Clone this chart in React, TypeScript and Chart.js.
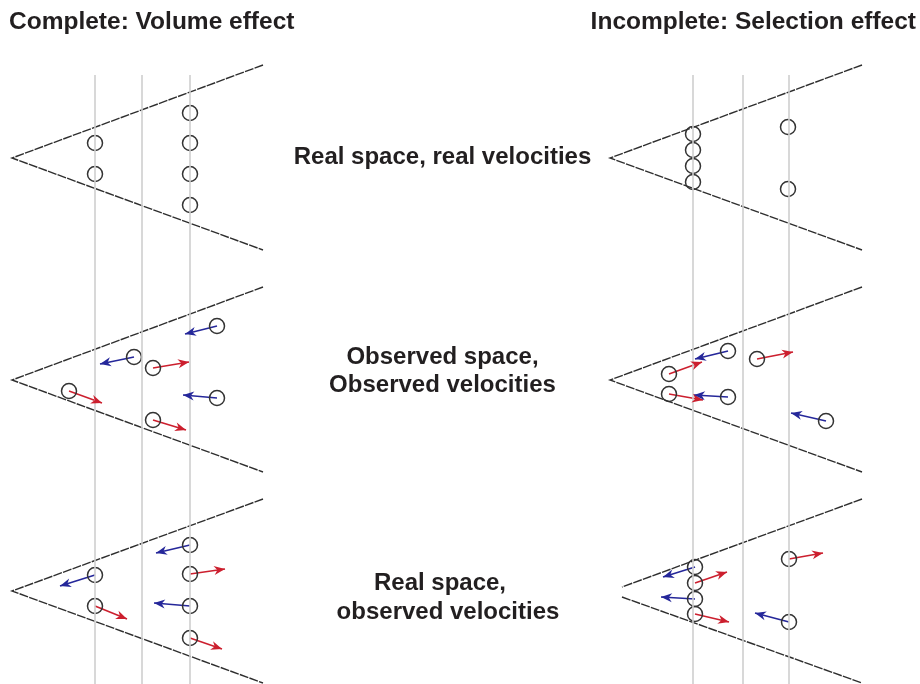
import React, { useEffect, useRef } from "react";
import { Chart, registerables } from "chart.js";

Chart.register(...registerables);

// ---- Text labels ----
const titleLeft = "Complete: Volume effect";
const titleRight = "Incomplete: Selection effect";
const rowLabels = [
  ["Real space, real velocities"],
  ["Observed space,", "Observed velocities"],
  ["Real space,", "observed velocities"],
];
const rowLabelX = [[442.5], [442.5, 442.5], [440, 448]];
const rowLabelY = [[157], [357, 385], [583, 612]];

// ---- Cone outlines (each: [x0,y0, x1,y1, ...]) ----
const coneLeft1 = [263, 65, 12, 158, 263, 250];
const coneLeft2 = [263, 287, 12, 380, 263, 472];
const coneLeft3 = [263, 499, 12, 591, 263, 683];
const coneRight1 = [862, 65, 610, 158, 862, 250];
const coneRight2 = [862, 287, 610, 380, 862, 472];
const coneRight3a = [862, 499, 622, 587];
const coneRight3b = [622, 597, 862, 683];

// ---- Vertical guide lines (x positions), spanning y range ----
const guideLeftX = [95, 142, 190];
const guideRightX = [693, 743, 789];
const guideY = [75, 684];

// ---- Galaxies (circle centres) ----
const galLeft1X = [95, 95, 190, 190, 190, 190];
const galLeft1Y = [143, 174, 113, 143, 174, 205];
const galLeft2X = [217, 134, 153, 69, 217, 153];
const galLeft2Y = [326, 357, 368, 391, 398, 420];
const galLeft3X = [190, 95, 190, 95, 190, 190];
const galLeft3Y = [545, 575, 574, 606, 606, 638];
const galRight1X = [693, 693, 693, 693, 788, 788];
const galRight1Y = [134, 150, 166, 182, 127, 189];
const galRight2X = [728, 757, 669, 669, 728, 826];
const galRight2Y = [351, 359, 374, 394, 397, 421];
const galRight3X = [695, 695, 695, 695, 789, 789];
const galRight3Y = [567, 583, 599, 614, 559, 622];

// ---- Velocity arrows: start x, start y, end x, end y, sign (+1 red receding, -1 blue approaching) ----
const arrLeft2 = [
  [217, 326, 185, 334, -1],
  [134, 357, 100, 364, -1],
  [153, 368, 189, 362, 1],
  [69, 391, 102, 403, 1],
  [217, 398, 183, 395, -1],
  [153, 420, 186, 430, 1],
];
const arrLeft3 = [
  [190, 545, 156, 553, -1],
  [95, 575, 60, 586, -1],
  [190, 574, 225, 569, 1],
  [95, 606, 127, 619, 1],
  [190, 606, 154, 603, -1],
  [190, 638, 222, 649, 1],
];
const arrRight2 = [
  [728, 351, 695, 359, -1],
  [757, 359, 793, 352, 1],
  [669, 374, 702, 362, 1],
  [669, 394, 703, 400, 1],
  [728, 397, 694, 395, -1],
  [826, 421, 791, 413, -1],
];
const arrRight3 = [
  [695, 567, 663, 577, -1],
  [695, 583, 727, 572, 1],
  [695, 599, 661, 597, -1],
  [695, 614, 729, 622, 1],
  [789, 559, 823, 553, 1],
  [789, 622, 755, 613, -1],
];

const RED = "#cc1f2e";
const BLUE = "#25279a";
const LINE = "#2e2e2e";
const GUIDE = "#cfcfcf";
const FONT = "'Liberation Sans', Arial, Helvetica, sans-serif";

function pairs(a: number[]) {
  const out: { x: number; y: number }[] = [];
  for (let i = 0; i < a.length; i += 2) out.push({ x: a[i], y: a[i + 1] });
  return out;
}

const arrowPlugin = {
  id: "arrowHeads",
  afterDatasetsDraw(chart: any) {
    const ctx = chart.ctx;
    chart.data.datasets.forEach((ds: any, i: number) => {
      if (!ds.isArrow) return;
      const meta = chart.getDatasetMeta(i);
      const p0 = meta.data[0];
      const p1 = meta.data[1];
      const ang = Math.atan2(p1.y - p0.y, p1.x - p0.x);
      const L = 11;
      const W = 4.5;
      ctx.save();
      ctx.fillStyle = ds.borderColor;
      ctx.beginPath();
      ctx.moveTo(p1.x, p1.y);
      ctx.lineTo(
        p1.x - L * Math.cos(ang) + W * Math.sin(ang),
        p1.y - L * Math.sin(ang) - W * Math.cos(ang)
      );
      ctx.lineTo(p1.x - 0.7 * L * Math.cos(ang), p1.y - 0.7 * L * Math.sin(ang));
      ctx.lineTo(
        p1.x - L * Math.cos(ang) - W * Math.sin(ang),
        p1.y - L * Math.sin(ang) + W * Math.cos(ang)
      );
      ctx.closePath();
      ctx.fill();
      ctx.restore();
    });
  },
};

const textPlugin = {
  id: "labels",
  afterDraw(chart: any) {
    const ctx = chart.ctx;
    const xs = chart.scales.x;
    const ys = chart.scales.y;
    ctx.save();
    ctx.fillStyle = "#221f20";
    ctx.textBaseline = "middle";
    ctx.font = `bold 24.5px ${FONT}`;
    ctx.textAlign = "left";
    ctx.fillText(titleLeft, xs.getPixelForValue(9), ys.getPixelForValue(22));
    ctx.textAlign = "right";
    ctx.fillText(titleRight, xs.getPixelForValue(916), ys.getPixelForValue(22));
    ctx.font = `bold 24px ${FONT}`;
    ctx.textAlign = "center";
    rowLabels.forEach((lines, i) => {
      lines.forEach((t, j) => {
        ctx.fillText(
          t,
          xs.getPixelForValue(rowLabelX[i][j]),
          ys.getPixelForValue(rowLabelY[i][j])
        );
      });
    });
    ctx.restore();
  },
};

export default function App() {
  const ref = useRef<HTMLCanvasElement>(null);
  useEffect(() => {
    const datasets: any[] = [];
    [...guideLeftX, ...guideRightX].forEach((x) => {
      datasets.push({
        data: [
          { x, y: guideY[0] },
          { x, y: guideY[1] },
        ],
        showLine: true,
        borderColor: GUIDE,
        borderWidth: 1.6,
        pointRadius: 0,
      });
    });
    [coneLeft1, coneLeft2, coneLeft3, coneRight1, coneRight2, coneRight3a, coneRight3b].forEach((c) => {
      datasets.push({
        data: pairs(c),
        showLine: true,
        borderColor: LINE,
        borderWidth: 1.4,
        borderDash: [9, 1.2],
        pointRadius: 0,
        tension: 0,
      });
    });
    [
      [galLeft1X, galLeft1Y],
      [galLeft2X, galLeft2Y],
      [galLeft3X, galLeft3Y],
      [galRight1X, galRight1Y],
      [galRight2X, galRight2Y],
      [galRight3X, galRight3Y],
    ].forEach(([xs, ys]) => {
      datasets.push({
        data: xs.map((x, i) => ({ x, y: ys[i] })),
        showLine: false,
        pointStyle: "circle",
        pointRadius: 7.5,
        pointBorderWidth: 1.5,
        pointBorderColor: "#333333",
        pointBackgroundColor: "rgba(0,0,0,0)",
      });
    });
    [...arrLeft2, ...arrLeft3, ...arrRight2, ...arrRight3].forEach((a) => {
      const col = a[4] > 0 ? RED : BLUE;
      datasets.push({
        isArrow: true,
        data: [
          { x: a[0], y: a[1] },
          { x: a[2], y: a[3] },
        ],
        showLine: true,
        borderColor: col,
        borderWidth: 1.6,
        pointRadius: 0,
      });
    });

    const chart = new Chart(ref.current!, {
      type: "scatter",
      data: { datasets },
      options: {
        animation: false,
        responsive: false,
        maintainAspectRatio: false,
        layout: { padding: 0, autoPadding: false },
        events: [],
        plugins: { legend: { display: false }, tooltip: { enabled: false } },
        scales: {
          x: { type: "linear", min: 0, max: 920, display: false },
          y: { type: "linear", min: 0, max: 684, reverse: true, display: false },
        },
        elements: { line: { tension: 0 } },
      },
      plugins: [arrowPlugin, textPlugin],
    } as any);
    return () => chart.destroy();
  }, []);

  return (
    <div style={{ position: "absolute", left: 0, top: 0, width: 920, height: 684, background: "#fff" }}>
      <canvas ref={ref} width={920} height={684} style={{ display: "block" }} />
    </div>
  );
}
